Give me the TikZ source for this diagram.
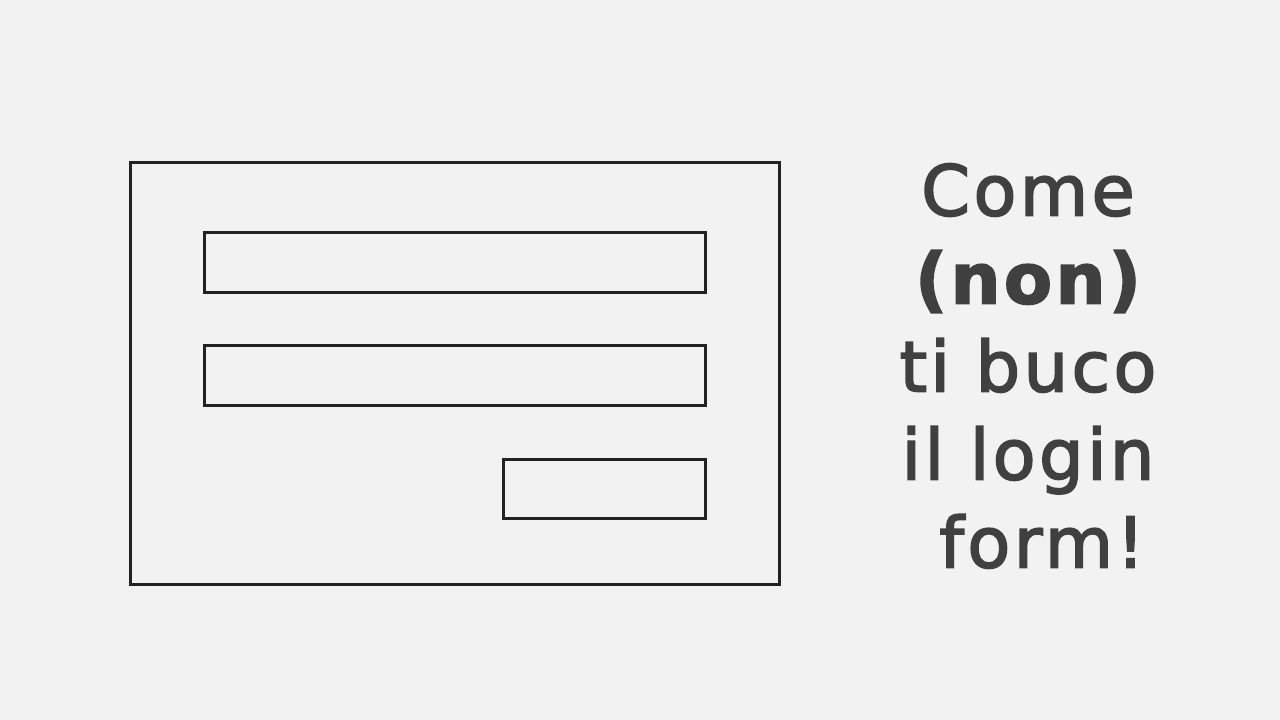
\documentclass[tikz,border=0pt]{standalone}
\usepackage{fontspec}
\setmainfont{DejaVu Sans}[LetterSpace=5, FakeBold=2.5]
\usepackage{tikz}
\definecolor{bgcol}{HTML}{F2F2F2}
\definecolor{linecol}{HTML}{222222}
\definecolor{textcol}{HTML}{404040}
\tikzset{
  box/.style={draw=linecol, line width=2.8pt, inner sep=0pt, anchor=north west},
  slogan/.style={text=textcol, font=\fontsize{70}{88}\selectfont, align=center, inner sep=0pt}
}

\begin{document}
\begin{tikzpicture}[x=1pt,y=-1pt]
\fill[bgcol] (0,0) rectangle (1280,720);
\useasboundingbox (0,0) rectangle (1280,720);
% login form
\node[box, minimum width=649pt, minimum height=422pt] (form) at (129,161) {};
\node[box, minimum width=501pt, minimum height=60pt] (user) at (203,231) {};
\node[box, minimum width=501pt, minimum height=60pt] (pass) at (203,344) {};
\node[box, minimum width=202pt, minimum height=59pt] (submit) at (502,458) {};
% title
\node[slogan] (title) at (1028,366) {Come\\ {\bfseries(non)}\\ ti buco\\ il login\\ \hspace*{28pt}form!};
\end{tikzpicture}
\end{document}
